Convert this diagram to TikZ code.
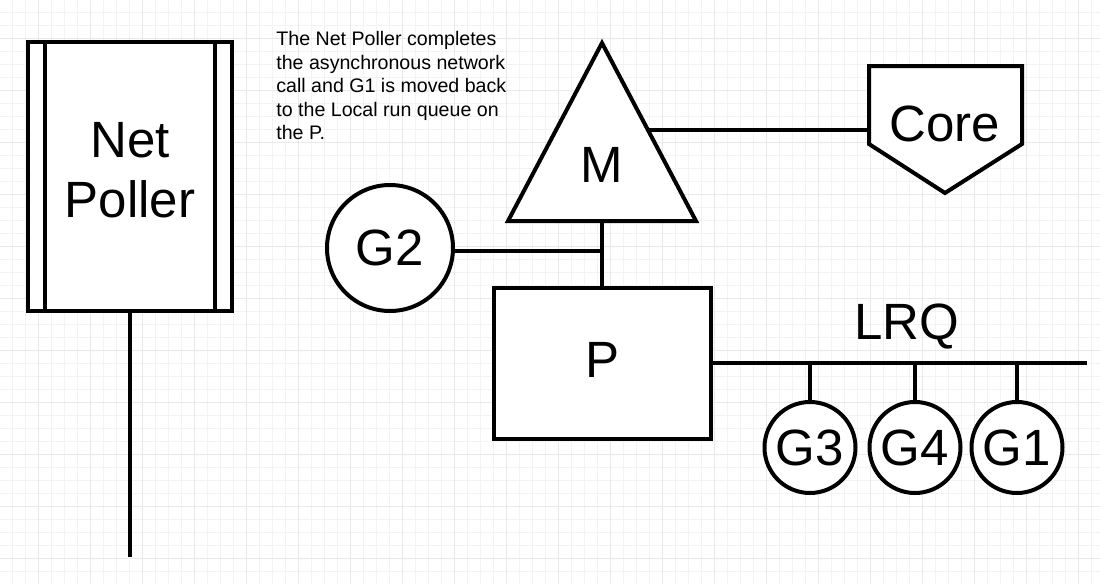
\documentclass[tikz,border=0pt]{standalone}
\usepackage{fontspec}
\setmainfont{Liberation Sans}
\usetikzlibrary{positioning,calc}
\definecolor{gridlight}{HTML}{F3F3F3}
\definecolor{griddark}{HTML}{E9E9E9}
\begin{document}
\begin{tikzpicture}[x=0.5pt,y=-0.5pt]
	\tikzstyle{minorline}=[gridlight,line width=0.5pt]
	\tikzstyle{majorline}=[griddark,line width=0.5pt]
	\tikzstyle{thick line}=[draw=black,line width=2pt]
	\tikzstyle{big}=[font=\fontsize{25.5}{30}\selectfont]
	\tikzstyle{boxnode}=[rectangle,thick line,fill=white,big,inner sep=0pt]
	\tikzstyle{gor}=[circle,thick line,fill=white,big,inner sep=0pt]
	\tikzstyle{edge}=[thick line]
	\useasboundingbox (0,0) rectangle (1100,584);
	\fill[white] (0,0) rectangle (1100,584);
	% background grid
	\foreach \g in {12,25,...,1100} \draw[minorline] (\g,0) -- (\g,584);
	\foreach \g in {12,25,...,584} \draw[minorline] (0,\g) -- (1100,\g);
	\foreach \g in {38,90,...,1100} \draw[majorline] (\g,0) -- (\g,584);
	\foreach \g in {38,90,...,584} \draw[majorline] (0,\g) -- (1100,\g);
	\begin{scope}
		% net poller
		\node [boxnode,minimum width=102pt,minimum height=134.5pt] (np) at (130,176.5) {};
		\node [big,inner sep=0pt,align=center] (nptext) at (130,170) {Net\\Poller};
		\draw [edge] ($(np.north west)+(19,0)$) -- ($(np.south west)+(19,0)$);
		\draw [edge] ($(np.north east)+(-19,0)$) -- ($(np.south east)+(-19,0)$);
		\coordinate (npend) at (130,557);
		\path[edge] (np.south) edge (npend);

		% note
		\node [anchor=north west,inner sep=0pt,align=left,font=\fontsize{9.8}{11.75}\selectfont] (note) at (276,31)
			{The Net Poller completes\\the asynchronous network\\call and G1 is moved back\\to the Local run queue on\\the P.};

		% machine
		\coordinate (mtop) at (602,43);
		\coordinate (mleft) at (508,221);
		\coordinate (mright) at (696,221);
		\coordinate (medge) at (648,130);
		\draw [thick line,fill=white,line join=miter] (mtop) -- (mright) -- (mleft) -- cycle;
		\node [big,inner sep=0pt] (m) at (602,165) {M};

		% core
		\draw [thick line,fill=white,line join=miter] (869,66) -- (1022,66) -- (1022,144) -- (945,193) -- (869,144) -- cycle;
		\coordinate (corewest) at (869,130);
		\node [big,inner sep=0pt] (core) at (945,124) {Core};
		\path[edge] (medge) edge (corewest);

		% processor
		\node [boxnode,minimum width=108.5pt,minimum height=75.5pt] (p) at (602.5,363.5) {\raisebox{4pt}{P}};
		\coordinate (mbase) at (602,221);
		\path[edge] (mbase) edge (p.north -| mbase);

		% goroutine in use
		\node [gor,minimum size=63pt] (g2) at (390,248) {G2};
		\path[edge] (g2.east |- 0,251) edge (602,251);

		% local run queue
		\coordinate (lrqend) at (1087,363);
		\path[edge] (p.east |- lrqend) edge (lrqend);
		\node [big,inner sep=0pt] (lrq) at (907,327) {LRQ};
		\node [gor,minimum size=45.5pt] (g3) at (810,447.5) {G3};
		\node [gor,minimum size=45.5pt] (g4) at (915,447.5) {G4};
		\node [gor,minimum size=45.5pt] (g1) at (1017,447.5) {G1};
		\path[edge] (g3.north) edge (g3.north |- lrqend);
		\path[edge] (g4.north) edge (g4.north |- lrqend);
		\path[edge] (g1.north) edge (g1.north |- lrqend);
	\end{scope}
\end{tikzpicture}
\end{document}
